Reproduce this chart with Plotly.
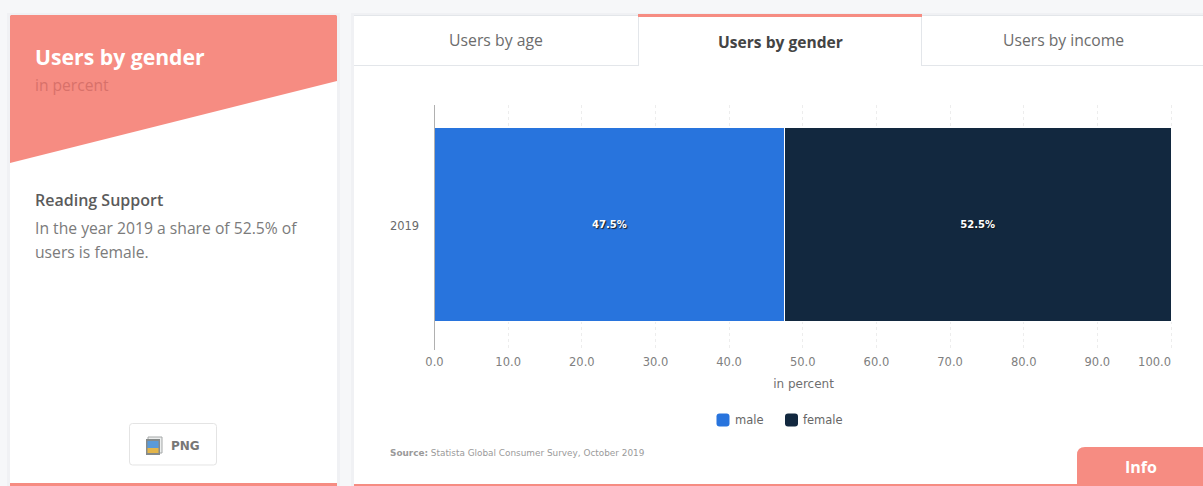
import plotly.graph_objects as go

# Chart data
years = ["2019"]
series_names = ["male", "female"]
male_share = [47.5]
female_share = [52.5]
series_colors = ["#2874dd", "#12283f"]
tick_values = [0, 10, 20, 30, 40, 50, 60, 70, 80, 90, 100]
tick_labels = ["0.0", "10.0", "20.0", "30.0", "40.0", "50.0", "60.0", "70.0", "80.0", "90.0",
               "100.0" + "\u00a0" * 9]
tab_titles = ["Users by age", "Users by gender", "Users by income"]

W, H = 1203, 486
SALMON = "#f68c82"
PAGE = "#f6f7f9"
EDGE = "#e3e6ea"
TEXT_FONT = "Open Sans"
CHART_FONT = "DejaVu Sans"


def px(x):
    return x / W


def py(y):
    return 1 - y / H


def rect(x0, y0, x1, y1, fill, line=None, layer="below"):
    return dict(type="rect", xref="paper", yref="paper", layer=layer,
                x0=px(x0), x1=px(x1), y0=py(y0), y1=py(y1), fillcolor=fill,
                line=dict(color=line or fill, width=1 if line else 0))


def path(points, fill, line=None, layer="below"):
    d = "".join(("M" if i == 0 else "L") + f"{px(a):.5f},{py(b):.5f}" for i, (a, b) in enumerate(points)) + "Z"
    return dict(type="path", xref="paper", yref="paper", layer=layer, path=d, fillcolor=fill,
                line=dict(color=line or fill, width=1 if line else 0))


def rounded(x0, y0, x1, y1, r, fill, line=None, layer="below", corners="all"):
    def P(a, b):
        return f"{px(a):.5f},{py(b):.5f}"
    if corners == "top-left":
        d = (f"M{P(x0, y1)}L{P(x0, y0 + r)}Q{P(x0, y0)} {P(x0 + r, y0)}"
             f"L{P(x1, y0)}L{P(x1, y1)}Z")
    else:
        d = (f"M{P(x0 + r, y0)}L{P(x1 - r, y0)}Q{P(x1, y0)} {P(x1, y0 + r)}"
             f"L{P(x1, y1 - r)}Q{P(x1, y1)} {P(x1 - r, y1)}"
             f"L{P(x0 + r, y1)}Q{P(x0, y1)} {P(x0, y1 - r)}"
             f"L{P(x0, y0 + r)}Q{P(x0, y0)} {P(x0 + r, y0)}Z")
    return dict(type="path", xref="paper", yref="paper", layer=layer, path=d, fillcolor=fill,
                line=dict(color=line or fill, width=1 if line else 0))


def label(x, y, text, size, color, anchor="left", family=TEXT_FONT, weight="normal"):
    return dict(xref="paper", yref="paper", x=px(x), y=py(y), text=text, showarrow=False,
                xanchor=anchor, yanchor="middle", align=anchor, borderpad=0,
                font=dict(family=family, size=size, color=color, weight=weight))


fig = go.Figure()
for name, values, color in zip(series_names, [male_share, female_share], series_colors):
    fig.add_trace(go.Bar(
        name=name, y=years, x=values, orientation="h", width=0.8, offset=-0.39486,
        marker=dict(color=color, line=dict(color="#ffffff", width=1)),
        text=[f"{v}%" for v in values], textposition="inside", insidetextanchor="middle",
        textangle=0, cliponaxis=False,
        textfont=dict(family=CHART_FONT, size=10, color="#ffffff", weight="bold",
                      shadow="1px 1px 1px #1a1a1a"),
        showlegend=False,
    ))

shapes = [
    # cards
    rect(7, 13, 340, 486, "#f0f1f4"),
    rect(351, 13, W, 486, "#f0f1f4"),
    rounded(10, 15, 337, 486, 2, "#ffffff"),
    rect(354, 15, W, 486, "#ffffff"),
    # left card header and footer strip
    path([(10, 16), (11, 15), (336, 15), (337, 16), (337, 81), (10, 163)], SALMON),
    rect(10, 483, 337, 486, SALMON),
    # tab strip
    rect(354, 15, 638, 16, EDGE),
    rect(921, 15, W, 16, EDGE),
    rect(354, 65, 638, 66, EDGE),
    rect(921, 65, W, 66, EDGE),
    rect(638, 16, 639, 66, EDGE),
    rect(921, 16, 922, 66, EDGE),
    rect(638, 14, 922, 17, SALMON),
    # footer of the chart card and the info tab
    rect(354, 484, W, 486, SALMON),
    rounded(1077, 447, W, 486, 8, SALMON, corners="top-left"),
    # export button and its icon
    rounded(129.5, 423.5, 216.5, 465, 3, "#ffffff", line="#e4e4e4"),
    rect(148, 437, 162, 453, "#eceeee", line="#a5a8a8"),
    rect(146, 439, 160, 455, "#858a8a"),
    rect(147.5, 441, 158.5, 448, "#5a9ad8"),
    rect(147.5, 448, 158.5, 453, "#e3b54a"),
]

# legend swatches, drawn as small rounded squares
swatch_x = [716.5, 785]
for sx, color in zip(swatch_x, series_colors):
    shapes.append(rounded(sx, 413.5, sx + 13, 426.5, 3, color))

annotations = [
    label(34, 57, "Users by gender", 21.2, "#ffffff", weight="bold"),
    label(34, 85, "in percent", 15.6, "#d8716a"),
    label(34, 200, "Reading Support", 16, "#5b5b5b", weight=600),
    label(34, 228, "In the year 2019 a share of 52.5% of", 15.7, "#7b7b7b"),
    label(34, 252, "users is female.", 15.7, "#7b7b7b"),
    label(170, 446, "PNG", 12, "#777777", family=CHART_FONT, weight="bold"),
    label(496, 40, tab_titles[0], 15.8, "#6c6c6c", anchor="center"),
    label(780.5, 42, tab_titles[1], 15.6, "#444444", anchor="center", weight="bold"),
    label(1063.5, 40, tab_titles[2], 15.7, "#6c6c6c", anchor="center"),
    label(734, 420, series_names[0], 11.5, "#666666", family=CHART_FONT),
    label(802, 420, series_names[1], 11.5, "#666666", family=CHART_FONT),
    label(389, 453, "<b>Source:</b> Statista Global Consumer Survey, October 2019", 8.9, "#9a9a9a",
          family=CHART_FONT),
    label(1141, 467, "Info", 16, "#ffffff", anchor="center", weight="bold"),
]

# The range runs a little past 100 so the last gridline is kept
fig.update_layout(
    template="none",
    width=W, height=H, autosize=False,
    margin=dict(l=0, r=0, t=0, b=0),
    paper_bgcolor=PAGE, plot_bgcolor="rgba(0,0,0,0)",
    barmode="stack", showlegend=False,
    shapes=shapes, annotations=annotations,
    xaxis=dict(
        domain=[px(434.5), px(434.5 + 736.5 * 1.002)], range=[0, 100.2],
        automargin=False,
        tickmode="array", tickvals=tick_values, ticktext=tick_labels,
        ticklabeloverflow="allow",
        showgrid=True, gridcolor="#ededed", griddash="dot", gridwidth=1,
        zeroline=False, showline=False,
        ticks="outside", ticklen=1, tickcolor="rgba(0,0,0,0)",
        tickfont=dict(family=CHART_FONT, size=11.5, color="#808080"),
        title=dict(text="in percent", standoff=11,
                   font=dict(family=CHART_FONT, size=12, color="#6f6f6f")),
        anchor="y",
    ),
    yaxis=dict(
        domain=[py(350), py(105)], type="category", range=[-0.5101, 0.4977],
        automargin=False,
        showgrid=False, zeroline=False, showline=True, linecolor="#b0b0b0", linewidth=1,
        ticks="", ticklabelstandoff=12,
        tickfont=dict(family=CHART_FONT, size=11.5, color="#6a6a6a"),
        anchor="x",
    ),
)

fig.write_html("out.html", config=dict(displayModeBar=False))
